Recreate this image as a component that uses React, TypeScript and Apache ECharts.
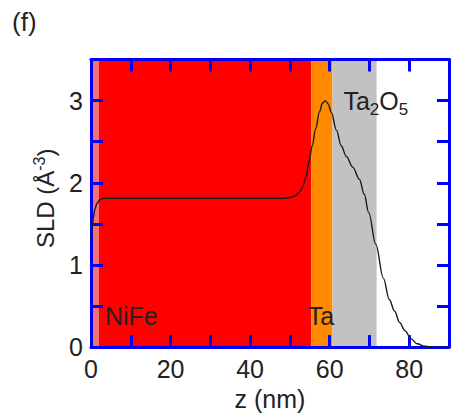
import React, { useEffect, useRef } from "react";
import * as echarts from "echarts";

// Depth profile of the scattering length density (SLD)
const zValues = [
  0, 0.3, 0.6, 1, 1.5, 2.2, 3, 5, 20, 40, 48, 50, 51.3, 52.3, 53.2, 54, 54.8,
  55.6, 56.5, 57.4, 58.2, 58.9, 59.6, 60.4, 61.7, 62.9, 64.2, 65.8, 67.5, 68.7,
  69.8, 71.6, 73.5, 75, 76.3, 77.6, 78.9, 80.5, 82, 84, 86, 90,
];
const sldValues = [
  1.28, 1.45, 1.58, 1.68, 1.75, 1.79, 1.81, 1.81, 1.81, 1.81, 1.81, 1.82, 1.84,
  1.88, 1.95, 2.06, 2.25, 2.45, 2.66, 2.86, 2.97, 3.0, 2.96, 2.86, 2.64, 2.45,
  2.32, 2.19, 2.04, 1.86, 1.64, 1.25, 0.84, 0.58, 0.44, 0.3, 0.2, 0.1, 0.04,
  0.01, 0, 0,
];

// Layer stack (nm)
const layerKeys = ["interface", "NiFe", "Ta", "Ta2O5"];
const layerStart = [0, 2, 55.4, 60.7];
const layerEnd = [2, 55.4, 60.7, 71.8];

// Axis ranges and labelled ticks
const zRange = [0, 90];
const sldRange = [0, 3.5];
const zLabelStep = 20;

const FONT = "Liberation Sans, Arial, sans-serif";
const layerColors: Record<string, string> = {
  interface: "#f07272",
  NiFe: "#ff0000",
  Ta: "#ff8a00",
  Ta2O5: "#c2c2c2",
};
const textColor = "#222";
const frameColor = "#0000ff";

const layerLabel = (key: string): any => {
  const base = { show: true, color: textColor, fontSize: 25, fontFamily: FONT };
  if (key === "NiFe")
    return { ...base, formatter: "NiFe", position: "insideBottomLeft", distance: 6, offset: [0, -13] };
  if (key === "Ta")
    return { ...base, formatter: "Ta", position: "insideBottom", distance: 6, offset: [-1, -13] };
  if (key === "Ta2O5")
    return {
      ...base,
      formatter: "Ta{sub|2}O{sub|5}",
      position: "insideTopLeft",
      distance: 10,
      offset: [1, 15],
      rich: {
        sub: { fontSize: 17, fontFamily: FONT, color: textColor, padding: [16, 0, 0, 0] },
      },
    };
  return { show: false };
};

export default function App() {
  const ref = useRef<HTMLDivElement>(null);

  useEffect(() => {
    if (!ref.current) return;
    const chart = echarts.init(ref.current, undefined, { renderer: "svg" });

    const frame = () => ({
      axisLine: { show: true, onZero: false, lineStyle: { color: frameColor, width: 3 } },
      axisTick: { show: true, inside: true, length: 12, lineStyle: { color: frameColor, width: 3 } },
      splitLine: { show: false },
    });

    chart.setOption({
      animation: false,
      backgroundColor: "#fff",
      grid: { left: 91, top: 59.5, width: 361, height: 290, containLabel: false },
      graphic: [
        {
          type: "text",
          left: 12,
          top: 9,
          style: { text: "(f)", fontSize: 26, fontFamily: FONT, fill: textColor },
        },
      ],
      xAxis: [
        {
          ...frame(),
          type: "value",
          min: zRange[0],
          max: zRange[1],
          interval: 10,
          position: "bottom",
          name: "z (nm)",
          nameLocation: "middle",
          nameGap: 24,
          nameTextStyle: { fontSize: 25, fontFamily: FONT, color: textColor },
          axisLabel: {
            fontSize: 25,
            fontFamily: FONT,
            color: textColor,
            margin: 9,
            formatter: (v: number) => (v % zLabelStep === 0 ? String(v) : ""),
          },
        },
        {
          ...frame(),
          type: "value",
          min: zRange[0],
          max: zRange[1],
          interval: 10,
          position: "top",
          axisLabel: { show: false },
        },
      ],
      yAxis: [
        {
          ...frame(),
          type: "value",
          min: sldRange[0],
          max: sldRange[1],
          interval: 0.5,
          position: "left",
          name: "SLD (Å{sup|-3})",
          nameLocation: "middle",
          nameGap: 31,
          nameRotate: 90,
          nameTextStyle: {
            fontSize: 24,
            fontFamily: FONT,
            color: textColor,
            padding: [0, 0, 0, 10],
            rich: {
              sup: { fontSize: 16, fontFamily: FONT, color: textColor, padding: [0, 0, 13, 0] },
            },
          },
          axisLabel: {
            fontSize: 25,
            fontFamily: FONT,
            color: textColor,
            margin: 8,
            formatter: (v: number) => (Number.isInteger(v) ? String(v) : ""),
          },
        },
        {
          ...frame(),
          type: "value",
          min: sldRange[0],
          max: sldRange[1],
          interval: 0.5,
          position: "right",
          axisLabel: { show: false },
        },
      ],
      series: [
        {
          // shaded layers, drawn beneath the axis frame
          type: "custom",
          z: -1,
          silent: true,
          xAxisIndex: 0,
          yAxisIndex: 0,
          data: layerKeys.map((_, i) => [layerStart[i], layerEnd[i], i]),
          encode: { x: [0, 1] },
          renderItem: (_params: any, api: any) => {
            const key = layerKeys[api.value(2)];
            const p0 = api.coord([api.value(0), sldRange[1]]);
            const p1 = api.coord([api.value(1), sldRange[0]]);
            return {
              type: "rect",
              shape: { x: p0[0], y: p0[1], width: p1[0] - p0[0], height: p1[1] - p0[1] },
              style: { fill: layerColors[key] },
            };
          },
        },
        {
          type: "line",
          xAxisIndex: 0,
          yAxisIndex: 0,
          data: zValues.map((z, i) => [z, sldValues[i]]),
          showSymbol: false,
          smooth: 0.35,
          smoothMonotone: "x",
          lineStyle: { color: "#1a1a1a", width: 1.4 },
          markArea: {
            silent: true,
            data: layerKeys.map((key, i) => [
              {
                xAxis: layerStart[i],
                itemStyle: { color: "rgba(0,0,0,0)" },
                label: layerLabel(key),
              },
              { xAxis: layerEnd[i] },
            ]),
          },
        },
      ],
    });

    return () => chart.dispose();
  }, []);

  return (
    <div
      ref={ref}
      style={{ position: "fixed", left: 0, top: 0, width: 452, height: 416 }}
    />
  );
}
